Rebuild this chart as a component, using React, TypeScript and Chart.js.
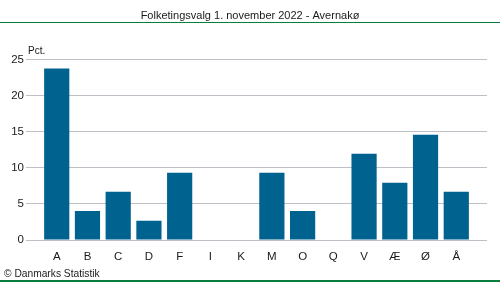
import React, { useEffect, useRef } from "react";
import { Chart, registerables } from "chart.js";

Chart.register(...registerables);

const categories = ["A", "B", "C", "D", "F", "I", "K", "M", "O", "Q", "V", "Æ", "Ø", "Å"];
const values = [23.75, 4.03, 6.67, 2.68, 9.3, 0, 0, 9.3, 4.03, 0, 11.94, 7.92, 14.58, 6.67];
const yTicks = [0, 5, 10, 15, 20, 25];
const title = "Folketingsvalg 1. november 2022 - Avernakø";
const unitLabel = "Pct.";
const credit = "© Danmarks Statistik";

const FONT = "'Liberation Sans', Arial, sans-serif";
const BAR = "#00628f";
const GRID = "#bfbfc8";
const GREEN = "#0a7d3e";
const TEXT = "#1a1a1a";

function drawScaledText(ctx: any, text: string, x: number, y: number, sx: number) {
  ctx.save();
  ctx.translate(x, y);
  ctx.scale(sx, 1);
  ctx.fillText(text, 0, 0);
  ctx.restore();
}

export default function App() {
  const ref = useRef<HTMLCanvasElement | null>(null);

  useEffect(() => {
    const canvas = ref.current;
    if (!canvas) return;
    document.body.style.margin = "0";

    const labels = ["", ...categories, ""];
    const data = [null, ...values, null];

    const decor = {
      id: "decor",
      beforeDraw(chart: any) {
        const ctx = chart.ctx;
        ctx.save();
        ctx.fillStyle = "#ffffff";
        ctx.fillRect(0, 0, chart.width, chart.height);
        ctx.restore();
      },
      afterDraw(chart: any) {
        const ctx = chart.ctx;
        ctx.save();
        ctx.fillStyle = TEXT;
        ctx.textBaseline = "alphabetic";
        ctx.textAlign = "center";
        ctx.font = `11px ${FONT}`;
        ctx.fillText(title, 250, 19);
        ctx.textAlign = "left";
        ctx.font = `11.5px ${FONT}`;
        drawScaledText(ctx, unitLabel, 28, 54, 0.87);
        ctx.font = `11px ${FONT}`;
        drawScaledText(ctx, credit, 4, 277, 0.93);
        ctx.fillStyle = GREEN;
        ctx.fillRect(0, 22, chart.width, 1);
        ctx.fillRect(0, 280, chart.width, 2);
        ctx.restore();
      },
    };

    const chart = new Chart(canvas, {
      type: "bar",
      data: {
        labels,
        datasets: [
          {
            data,
            backgroundColor: BAR,
            borderWidth: 0,
            barPercentage: 0.82,
            categoryPercentage: 1,
          },
        ],
      },
      options: {
        animation: false,
        responsive: false,
        devicePixelRatio: 1,
        layout: { padding: { top: 59.5, right: 13, bottom: 0, left: 0 } },
        plugins: {
          legend: { display: false },
          tooltip: { enabled: false },
          title: { display: false },
        },
        scales: {
          x: {
            type: "category",
            offset: false,
            grid: { display: false, drawTicks: false },
            border: { display: false },
            ticks: {
              color: TEXT,
              font: { family: FONT, size: 11.5 },
              padding: 10,
              maxRotation: 0,
              autoSkip: false,
            },
            afterFit(scale: any) {
              scale.height = 42;
            },
          },
          y: {
            min: 0,
            max: 25,
            afterBuildTicks(scale: any) {
              scale.ticks = yTicks.map((v) => ({ value: v }));
            },
            grid: { color: GRID, lineWidth: 1, drawTicks: false },
            border: { display: false },
            ticks: {
              color: TEXT,
              font: { family: FONT, size: 11.5 },
              padding: 2,
            },
            afterFit(scale: any) {
              scale.width = 26;
            },
          },
        },
      },
      plugins: [decor],
    });

    return () => chart.destroy();
  }, []);

  return (
    <div style={{ position: "absolute", left: 0, top: 0, width: 500, height: 282 }}>
      <canvas ref={ref} width={500} height={282} style={{ display: "block" }} />
    </div>
  );
}
